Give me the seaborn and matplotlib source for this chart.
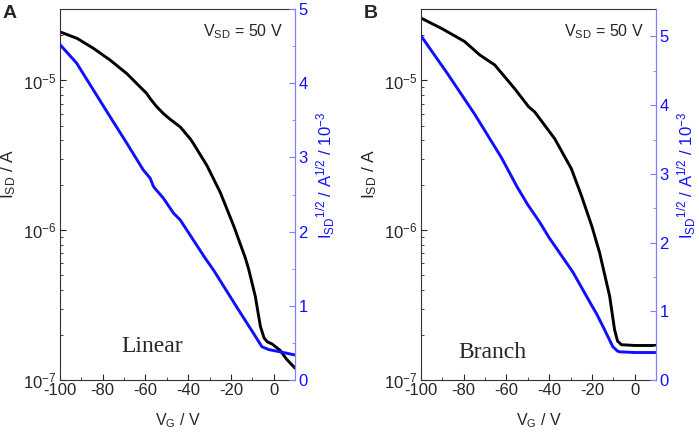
import numpy as np
import pandas as pd
import matplotlib
matplotlib.use("Agg")
import matplotlib.pyplot as plt
import seaborn as sns
from matplotlib.ticker import LogLocator, MultipleLocator, NullFormatter

# --- Panel A (Linear) ---
vg_a_log = [-100, -92, -84.4, -76.6, -68.7, -59.4, -57.8, -54.7, -51.6, -48.4, -43.7, -39,
            -37.5, -31.2, -25, -18.7, -13.3, -11.7, -8.6, -6.2, -4.5, -3, -0.75, 3, 6, 10]
isd_a = [2.11e-5, 1.91e-5, 1.64e-5, 1.37e-5, 1.11e-5, 8.18e-6, 7.57e-6, 6.67e-6, 6.01e-6,
         5.50e-6, 4.89e-6, 4.07e-6, 3.78e-6, 2.70e-6, 1.79e-6, 1.07e-6, 6.56e-7, 5.50e-7,
         3.63e-7, 2.28e-7, 1.91e-7, 1.80e-7, 1.74e-7, 1.58e-7, 1.38e-7, 1.20e-7]
vg_a_sqrt = [-100, -92.2, -84.4, -76.6, -68.7, -61, -57.8, -56.3, -55.5, -51.6, -46.9, -43.7,
             -32, -28.1, -16.4, -10, -5.5, -2.3, 3, 10]
sqrt_a = [4.52, 4.27, 3.91, 3.55, 3.19, 2.83, 2.72, 2.61, 2.58, 2.45, 2.25, 2.156, 1.64,
          1.48, 0.943, 0.655, 0.449, 0.41, 0.38, 0.337]

# --- Panel B (Branch) ---
vg_b_log = [-100, -90, -79.6, -72.5, -65.5, -56.2, -49.6, -46.8, -37.4, -29.6, -24.9, -20,
            -16.4, -11.7, -9.4, -8, -6.2, 0, 10]
isd_b = [2.61e-5, 2.21e-5, 1.82e-5, 1.48e-5, 1.27e-5, 8.83e-6, 6.67e-6, 6.17e-6, 4.08e-6,
         2.57e-6, 1.70e-6, 1.06e-6, 7.08e-7, 3.63e-7, 2.17e-7, 1.82e-7, 1.72e-7, 1.70e-7,
         1.70e-7]
vg_b_sqrt = [-100, -87.4, -74.9, -62.4, -55, -50, -44.5, -40, -30, -28.9, -20, -17.9, -15,
             -10.2, -8, -7, 0, 10]
sqrt_b = [5.01, 4.45, 3.87, 3.24, 2.81, 2.55, 2.30, 2.07, 1.62, 1.57, 1.08, 0.968, 0.79,
          0.484, 0.42, 0.41, 0.40, 0.40]

panels = [
    ("A", "Linear", vg_a_log, isd_a, vg_a_sqrt, sqrt_a, 5.0, 0.394, 0.075),
    ("B", "Branch", vg_b_log, isd_b, vg_b_sqrt, sqrt_b, 5.4, 0.302, 0.059),
]

sns.set_style("ticks")
plt.rcParams["font.family"] = ["Liberation Sans", "DejaVu Sans"]
plt.rcParams["mathtext.fontset"] = "custom"
plt.rcParams["mathtext.rm"] = "Liberation Sans"
plt.rcParams["mathtext.it"] = "Liberation Sans"
plt.rcParams["mathtext.default"] = "regular"
plt.rcParams["axes.unicode_minus"] = False

blue = "#1010ff"
spine_blue = "#7f7fff"
tick_fs = 12

fig = plt.figure(figsize=(6.99, 4.32), dpi=100)
lefts = [60 / 699, 421 / 699]

for i, (tag, name, xl, yl, xs, ys, rtop, nx, ny) in enumerate(panels):
    ax = fig.add_axes([lefts[i], 1 - 380 / 432, 235 / 699, 371 / 432])
    df_log = pd.DataFrame({"vg": xl, "isd": yl})
    df_sq = pd.DataFrame({"vg": xs, "sq": ys})

    sns.lineplot(data=df_log, x="vg", y="isd", ax=ax, color="black", lw=2.1)
    ax.set_yscale("log")
    ax.set_xlim(-100, 10)
    ax.set_ylim(1e-7, 3e-5)
    ax.xaxis.set_major_locator(MultipleLocator(20))
    ax.xaxis.set_minor_locator(MultipleLocator(10))
    ax.yaxis.set_major_locator(LogLocator(base=10))
    ax.yaxis.set_minor_locator(LogLocator(base=10, subs=np.arange(2, 10)))
    ax.yaxis.set_minor_formatter(NullFormatter())
    ax.tick_params(which="both", direction="in", top=False, right=False,
                   labelsize=tick_fs, pad=2.5)
    ax.tick_params(which="major", length=4, width=0.8)
    ax.tick_params(which="minor", length=2.5, width=0.6)
    ax.set_xlabel("V$_G$ / V", fontsize=11.5)
    ax.set_ylabel("I$_{SD}$ / A", fontsize=12.5)
    ax.xaxis.set_label_coords(0.5, -0.084)
    ax.yaxis.set_label_coords(-0.178, 0.557)
    for s in ["left", "bottom", "top"]:
        ax.spines[s].set_color("#333333")
        ax.spines[s].set_linewidth(0.8)
    ax.spines["right"].set_visible(False)

    ax2 = ax.twinx()
    sns.lineplot(data=df_sq, x="vg", y="sq", ax=ax2, color=blue, lw=2.1)
    ax2.set_ylim(0, rtop)
    ax2.set_yticks([0, 1, 2, 3, 4, 5])
    ax2.yaxis.set_minor_locator(MultipleLocator(0.5))
    ax2.tick_params(which="both", direction="in", colors=blue, labelsize=tick_fs, pad=2.5)
    ax2.tick_params(which="major", length=4, width=0.8, color=spine_blue)
    ax2.tick_params(which="minor", length=2.5, width=0.6, color=spine_blue)
    ax2.set_ylabel("I$_{SD}$$^{1/2}$ / A$^{1/2}$ / 10$^{-3}$", color=blue, fontsize=12)
    ax2.yaxis.set_label_coords(1.082, 0.552)
    ax2.set_xlabel("")
    ax2.spines["right"].set_color(spine_blue)
    ax2.spines["right"].set_linewidth(0.9)
    for s in ["left", "bottom", "top"]:
        ax2.spines[s].set_visible(False)

    ax.text(0.95, 0.965, "V$_{SD}$ = 50 V", transform=ax.transAxes, ha="right", va="top",
            fontsize=11.5)
    ax.text(nx, ny, name, transform=ax.transAxes, ha="center", va="baseline",
            fontsize=17, family=["Liberation Serif", "DejaVu Serif"])
    fig.text(lefts[i] - 60 / 699 + 3 / 699, 1 - 5 / 432, tag, ha="left", va="top",
             fontsize=14, fontweight="bold")

fig.savefig("out.png", dpi=100)
